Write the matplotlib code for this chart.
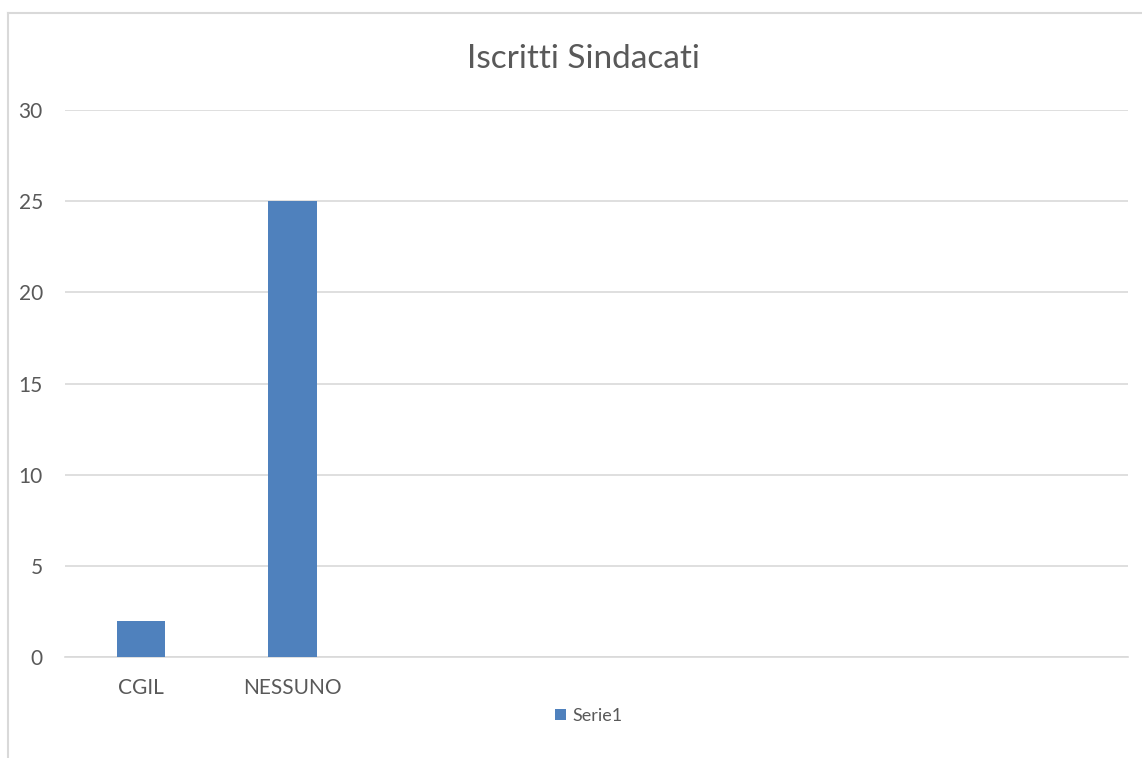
import matplotlib
matplotlib.use("Agg")
import matplotlib.pyplot as plt
from matplotlib.lines import Line2D
from matplotlib.patches import Patch
import numpy as np

# data
categories = ["CGIL", "NESSUNO", "", "", "", "", ""]
values = [2, 25, 0, 0, 0, 0, 0]
series_name = "Serie1"
title = "Iscritti Sindacati"
y_ticks = [0, 5, 10, 15, 20, 25, 30]

BAR_COLOR = "#4f81bd"
GRID_COLOR = "#d9d9d9"
TEXT_COLOR = "#595959"

plt.rcParams["font.family"] = ["Lato", "DejaVu Sans"]

W, H = 1142, 758
fig = plt.figure(figsize=(W / 100, H / 100), dpi=100)
ax = fig.add_axes([65 / W, (H - 657) / H, (1128 - 65) / W, (657 - 110) / H])

x = np.arange(len(categories))
ax.bar(x, values, width=0.32, color=BAR_COLOR, zorder=3)

ax.set_xlim(-0.5, len(categories) - 0.5)
ax.set_ylim(0, 30)
ax.set_yticks(y_ticks)
ax.set_yticklabels([str(v) for v in y_ticks])
ax.set_xticks(x)
ax.set_xticklabels(categories)
ax.tick_params(axis="both", length=0, labelsize=15, colors=TEXT_COLOR)
ax.tick_params(axis="y", pad=16)
ax.tick_params(axis="x", pad=15)

ax.yaxis.grid(True, color=GRID_COLOR, linewidth=1.2, zorder=0)
for side in ["top", "right", "left"]:
    ax.spines[side].set_visible(False)
ax.spines["bottom"].set_color(GRID_COLOR)
ax.spines["bottom"].set_linewidth(1.2)

fig.text(583 / W, 1 - 59 / H, title, ha="center", va="center",
         fontsize=24, color=TEXT_COLOR)

handle = Patch(facecolor=BAR_COLOR, edgecolor="none")
fig.legend([handle], [series_name], loc="center", bbox_to_anchor=(589 / W, 1 - 716 / H),
           frameon=False, fontsize=13, handlelength=0.6, handleheight=0.6,
           handletextpad=0.35, labelcolor=TEXT_COLOR)

# outer chart border (top and left edges visible in the screenshot)
fig.add_artist(Line2D([8 / W, 8 / W], [1 - 13 / H, 0], transform=fig.transFigure,
                      color=GRID_COLOR, linewidth=1.5))
fig.add_artist(Line2D([8 / W, 1], [1 - 13 / H, 1 - 13 / H], transform=fig.transFigure,
                      color=GRID_COLOR, linewidth=1.5))

fig.savefig("out.png", dpi=100)
